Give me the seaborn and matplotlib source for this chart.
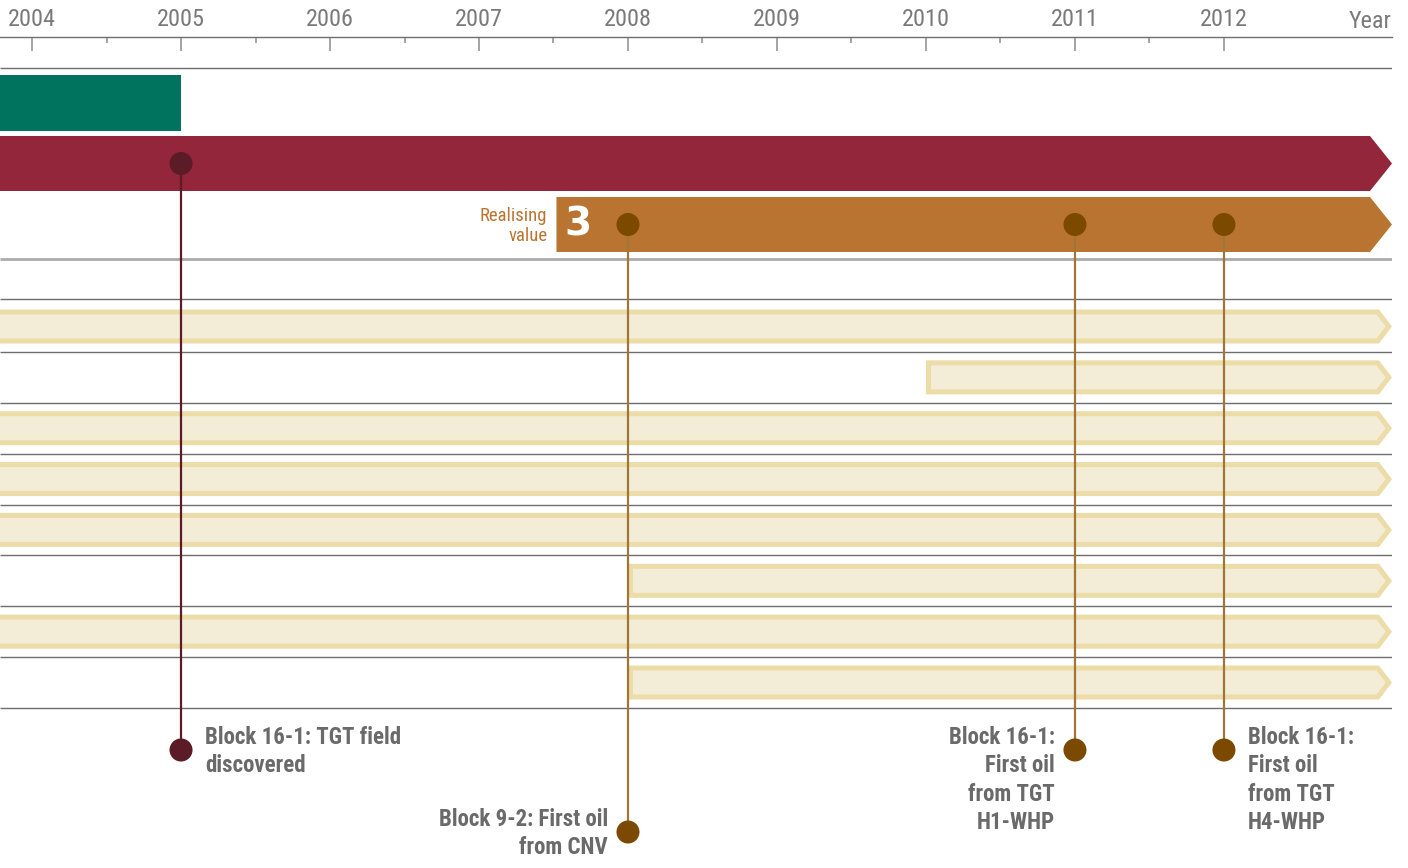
import matplotlib
matplotlib.use("Agg")
import matplotlib.pyplot as plt
from matplotlib import font_manager
from matplotlib.patches import Polygon
import numpy as np
import pandas as pd
import seaborn as sns

# ---------------------------------------------------------------- data
years = [2004, 2005, 2006, 2007, 2008, 2009, 2010, 2011, 2012]
year_labels = [str(y) for y in years]
half_years = [y + 0.5 for y in years[:-1]]
axis_title = "Year"
x_min, x_max = 2003.785, 2013.128

# phase bars: start year, end year (x_max = runs on past the chart)
phase_start = [2003.0, 2003.0, 2007.52]
phase_end = [2005.0, x_max, x_max]
phase_arrow = [False, True, True]
phase_colors = ["#00735F", "#93263A", "#BA7431"]
phase_label = ["", "", "Realising\nvalue"]
phase_number = ["", "", "3"]

# activity bars below the phases
activity_start = [2003.0, 2010.0, 2003.0, 2003.0, 2003.0, 2008.0, 2003.0, 2008.0]
activity_end = [x_max] * 8

# milestones
milestone_year = [2005, 2008, 2011, 2012]
milestone_phase = [1, 2, 2, 2]
milestone_text = [
    "Block 16-1: TGT field\ndiscovered",
    "Block 9-2: First oil\nfrom CNV",
    "Block 16-1:\nFirst oil\nfrom TGT\nH1-WHP",
    "Block 16-1:\nFirst oil\nfrom TGT\nH4-WHP",
]
milestone_side = ["right", "left", "left", "right"]
milestone_level = [0, 1, 0, 0]

# ---------------------------------------------------------------- style
W, H = 1408, 868
PLOT_W = 1392
PX = PLOT_W / (x_max - x_min)          # pixels per year

phase_y = [103, 163.5, 224.5]
phase_h = [56, 55, 55]
act_y0, act_pitch, act_h = 326.5, 50.86, 34
sep_dark = [68, 299] + [act_y0 + act_pitch * i + 25.5 for i in range(8)]
sep_light = [259]
label_dot_y = [750, 832]

dot_colors = {1: "#5B1B27", 2: "#7B4A00"}
stem_colors = {1: "#5B1B27", 2: "#A07538"}
beige_fill, beige_edge = "#F3EDD7", "#ECDCA8"
text_grey = "#6A6A6A"

sns.set_theme(style="white")


def pick(names):
    avail = {f.name for f in font_manager.fontManager.ttflist}
    for n in names:
        if n in avail:
            return n
    return "DejaVu Sans"


narrow = pick(["Liberation Sans Narrow", "Roboto Condensed", "Liberation Sans"])
plt.rcParams["font.family"] = [narrow, "DejaVu Sans"]

fig = plt.figure(figsize=(W / 100, H / 100), dpi=100)
ax = fig.add_axes([0, 0, PLOT_W / W, 1])
ax.set_xlim(x_min, x_max)
ax.set_ylim(H, 0)
ax.axis("off")


def arrow_pts(x0, x1, yc, h, tip_px, arrow):
    """Bar outline from x0 to x1 (years) centred on yc, pointed at x1 if arrow."""
    top, bot = yc - h / 2, yc + h / 2
    if not arrow:
        return [(x0, top), (x1, top), (x1, bot), (x0, bot)]
    xe = x1 - tip_px / PX
    return [(x0, top), (xe, top), (x1, yc), (xe, bot), (x0, bot)]


# phase bars
for i in range(len(phase_start)):
    pts = arrow_pts(phase_start[i], phase_end[i], phase_y[i], phase_h[i], 22, phase_arrow[i])
    ax.add_patch(Polygon(pts, closed=True, fc=phase_colors[i], ec="none", zorder=2))
    if phase_label[i]:
        ax.text(phase_start[i] - 9 / PX, phase_y[i] + 1.5, phase_label[i], ha="right", va="center",
                fontsize=13.5, color=phase_colors[i], linespacing=1.15, zorder=3)
    if phase_number[i]:
        ax.text(phase_start[i] + 21 / PX, phase_y[i] + 11.5, phase_number[i], ha="center",
                va="baseline", fontsize=28, fontweight="heavy", color="white",
                family="DejaVu Sans", zorder=3)

# activity bars: border shape with an inset fill
b = 5.0
tip = 13.0
for i in range(len(activity_start)):
    yc = act_y0 + act_pitch * i
    ax.add_patch(Polygon(arrow_pts(activity_start[i], activity_end[i], yc, act_h, tip, True),
                         closed=True, fc=beige_edge, ec="none", zorder=2))
    half = act_h / 2
    sin_phi = half / np.hypot(half, tip)
    x1_in = activity_end[i] - (b / sin_phi) / PX
    tip_in = (half - b) * tip / half
    ax.add_patch(Polygon(arrow_pts(activity_start[i] + b / PX, x1_in, yc, act_h - 2 * b, tip_in, True),
                         closed=True, fc=beige_fill, ec="none", zorder=2))

# separators
ax.hlines(sep_dark, x_min, x_max, color="#6E6E6E", lw=1.0, zorder=1)
ax.hlines(sep_light, x_min, x_max, color="#ABABAB", lw=2.0, zorder=1)

# milestone stems, dots and labels
rows = []
for yr, ph, lev in zip(milestone_year, milestone_phase, milestone_level):
    y_top, y_bot = phase_y[ph], label_dot_y[lev]
    ax.vlines(yr, y_top, y_bot, color=stem_colors[ph], lw=1.6, zorder=3)
    rows.append({"year": yr, "y": y_top, "phase": ph})
    rows.append({"year": yr, "y": y_bot, "phase": ph})
dots = pd.DataFrame(rows)
sns.scatterplot(data=dots, x="year", y="y", hue="phase", palette=dot_colors, s=275,
                linewidth=0, legend=False, ax=ax, zorder=4)

for yr, txt, side, lev in zip(milestone_year, milestone_text, milestone_side, milestone_level):
    y = label_dot_y[lev] - 24
    if side == "right":
        ax.text(yr + 24 / PX, y, txt, ha="left", va="top", fontsize=16.5, fontweight="bold",
                color=text_grey, linespacing=1.3, zorder=5)
    else:
        ax.text(yr - 20 / PX, y, txt, ha="right", va="top", multialignment="right", fontsize=16.5,
                fontweight="bold", color=text_grey, linespacing=1.3, zorder=5)

# year scale along the top
top = fig.add_axes([0, 1 - 51 / H, PLOT_W / W, 14 / H])
top.set_xlim(x_min, x_max)
top.patch.set_alpha(0)
top.xaxis.tick_top()
top.set_xticks(years)
top.set_xticklabels(year_labels)
top.set_xticks(half_years, minor=True)
top.set_yticks([])
top.tick_params(axis="x", which="major", direction="in", length=10.1, width=1.1,
                color="#8C8C8C", pad=4, labelsize=17.5, labelcolor="#7A7A7A")
top.tick_params(axis="x", which="minor", direction="in", length=4.3, width=1.1, color="#8C8C8C")
for s in ["left", "right", "bottom"]:
    top.spines[s].set_visible(False)
top.spines["top"].set_color("#6E6E6E")
top.spines["top"].set_linewidth(1.0)
ax.text(x_max, 28, axis_title, ha="right", va="baseline", fontsize=17.5, color="#7A7A7A")

fig.savefig("out.png", dpi=100)
